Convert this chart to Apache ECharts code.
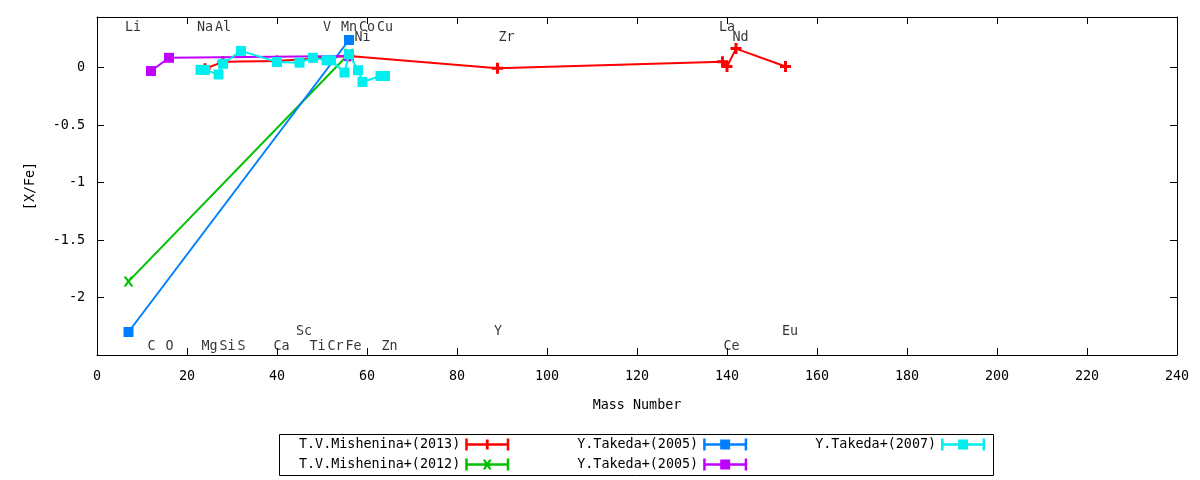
<!DOCTYPE html>
<html>
<head>
<meta charset="utf-8">
<title>[X/Fe] vs Mass Number</title>
<script src="https://cdn.jsdelivr.net/npm/echarts@6/dist/echarts.min.js"></script>
<style>
  html, body { margin: 0; background: #fff; }
  #main { width: 1200px; height: 480px; }
</style>
</head>
<body>
<div id="main"></div>
<script>
// T.V.Mishenina+(2013)
var mish13Mass = [24, 28, 40, 56, 89, 139, 140, 142, 153];
var mish13Val  = [-0.01, 0.05, 0.057, 0.1, -0.005, 0.05, 0.01, 0.165, 0.01];
// T.V.Mishenina+(2012)
var mish12Mass = [7, 56];
var mish12Val  = [-1.86, 0.12];
// Y.Takeda+(2005), blue
var tak05aMass = [7, 56];
var tak05aVal  = [-2.3, 0.24];
// Y.Takeda+(2005), purple
var tak05bMass = [12, 16, 56];
var tak05bVal  = [-0.03, 0.085, 0.1];
// Y.Takeda+(2007)
var tak07Mass = [23, 24, 27, 28, 32, 40, 45, 48, 51, 52, 55, 56, 58, 59, 63, 64];
var tak07Val  = [-0.02, -0.02, -0.06, 0.033, 0.145, 0.049, 0.043, 0.085, 0.063, 0.063, -0.043, 0.116, -0.023, -0.125, -0.073, -0.073];

// element names written on the plot
var elemNames = ['Li', 'Na', 'Al', 'V', 'Mn', 'Co', 'Cu', 'La',
                 'Ni', 'Zr', 'Nd',
                 'Sc', 'Y', 'Eu',
                 'C', 'O', 'Mg', 'Si', 'S', 'Ca', 'Ti', 'Cr', 'Fe', 'Zn', 'Ce'];
var elemMass  = [7, 23, 27, 51, 55, 59, 63, 139,
                 58, 90, 142,
                 45, 89, 153,
                 12, 16, 24, 28, 32, 40, 48, 52, 56, 64, 140];
var elemRow   = [0.353, 0.353, 0.353, 0.353, 0.353, 0.353, 0.353, 0.353,
                 0.266, 0.266, 0.266,
                 -2.285, -2.285, -2.285,
                 -2.415, -2.415, -2.415, -2.415, -2.415, -2.415, -2.415, -2.415, -2.415, -2.415, -2.415];

var FONT = 'DejaVu Sans Mono';
var FSIZE = 13.4;

function pairs(xs, ys) {
    return xs.map(function (x, i) { return [x, ys[i]]; });
}

var plusPath  = 'path://M4 0h3v11h-3zM0 4h11v3h-11z';
var crossPath = 'path://M0 0L2.6 0L5 3.4L7.4 0L10 0L6.4 5L10 10L7.4 10L5 6.6L2.6 10L0 10L3.6 5Z';
// legend samples: errorbar style |--o--|
var barEnds = 'M0 0h2.5v12h-2.5zM0 4.8h44v2.4h-44zM41.5 0h2.5v12h-2.5z';
var iconSquare = 'path://' + barEnds + 'M17 1h10v10h-10z';
var iconPlus   = 'path://' + barEnds + 'M20.6 1h2.8v10h-2.8z';
var iconCross  = 'path://' + barEnds + 'M17.5 1L20 1L22 4L24 1L26.5 1L23.6 6L26.5 11L24 11L22 8L20 11L17.5 11L20.4 6Z';

var names = ['T.V.Mishenina+(2013)', 'T.V.Mishenina+(2012)', 'Y.Takeda+(2005)', 'Y.Takeda+(2005) [b]', 'Y.Takeda+(2007)'];

function lineSeries(name, data, color, symbol, size, z) {
    return {
        name: name,
        type: 'line',
        z: z,
        data: data,
        symbol: symbol,
        symbolSize: size,
        showAllSymbol: true,
        lineStyle: { color: color, width: 2 },
        itemStyle: { color: color },
        emphasis: { disabled: true },
        animation: false
    };
}

function legendRow(top, items) {
    return {
        top: top,
        left: 299,
        padding: 0,
        orient: 'horizontal',
        align: 'right',
        itemWidth: 44,
        itemHeight: 12,
        itemGap: 68,
        selectedMode: false,
        textStyle: { fontFamily: FONT, fontSize: FSIZE, color: '#000' },
        formatter: function (n) { return n.replace(' [b]', ''); },
        data: items
    };
}

var axisCommon = {
    axisLine: { onZero: false, lineStyle: { color: '#000', width: 1 } },
    axisTick: { inside: true, length: 7, lineStyle: { color: '#000' } },
    splitLine: { show: false }
};

var myChart = echarts.init(document.getElementById('main'));

var option = {
    backgroundColor: '#fff',
    animation: false,
    grid: { left: 97, right: 23, top: 17, bottom: 125 },
    xAxis: [
        Object.assign({}, axisCommon, {
            type: 'value', min: 0, max: 240, interval: 20, position: 'bottom',
            name: 'Mass Number', nameLocation: 'middle', nameGap: 44,
            nameTextStyle: { fontFamily: FONT, fontSize: FSIZE, color: '#000' },
            axisLabel: { fontFamily: FONT, fontSize: FSIZE, color: '#000', margin: 15 }
        }),
        Object.assign({}, axisCommon, {
            type: 'value', min: 0, max: 240, interval: 20, position: 'top',
            axisLabel: { show: false }
        })
    ],
    yAxis: [
        Object.assign({}, axisCommon, {
            type: 'value', min: -2.5, max: 0.44, interval: 0.5, position: 'left',
            name: '[X/Fe]', nameLocation: 'middle', nameGap: 60, nameRotate: 90,
            nameTextStyle: { fontFamily: FONT, fontSize: FSIZE, color: '#000' },
            axisLabel: {
                fontFamily: FONT, fontSize: FSIZE, color: '#000', margin: 12,
                formatter: function (v) { return (v < -2.4 || v > 0.1) ? '' : String(v); }
            }
        }),
        Object.assign({}, axisCommon, {
            type: 'value', min: -2.5, max: 0.44, interval: 0.5, position: 'right',
            axisLabel: { show: false }
        })
    ],
    legend: [
        legendRow(438, [
            { name: names[0], icon: iconPlus },
            { name: names[2], icon: iconSquare },
            { name: names[4], icon: iconSquare }
        ]),
        legendRow(458, [
            { name: names[1], icon: iconCross },
            { name: names[3], icon: iconSquare }
        ])
    ],
    graphic: [{
        type: 'rect',
        shape: { x: 279.5, y: 434.5, width: 714, height: 41 },
        style: { fill: 'none', stroke: '#000', lineWidth: 1 },
        silent: true
    }],
    series: [
        lineSeries(names[0], pairs(mish13Mass, mish13Val), '#ff0000', plusPath, 11, 2),
        lineSeries(names[1], pairs(mish12Mass, mish12Val), '#00c000', crossPath, 10, 3),
        lineSeries(names[2], pairs(tak05aMass, tak05aVal), '#0080ff', 'rect', 10, 4),
        lineSeries(names[3], pairs(tak05bMass, tak05bVal), '#c000ff', 'rect', 10, 5),
        lineSeries(names[4], pairs(tak07Mass, tak07Val), '#00eeee', 'rect', 10, 6),
        {
            type: 'scatter',
            z: 7,
            silent: true,
            symbolSize: 1,
            itemStyle: { color: 'rgba(0,0,0,0)' },
            data: elemNames.map(function (n, i) {
                return { name: n, value: [elemMass[i], elemRow[i]] };
            }),
            label: {
                show: true,
                formatter: '{b}',
                position: [-3, 1.5],
                align: 'left',
                verticalAlign: 'middle',
                fontFamily: FONT,
                fontSize: FSIZE,
                color: '#000'
            },
            animation: false
        }
    ]
};

myChart.setOption(option);
</script>
</body>
</html>
